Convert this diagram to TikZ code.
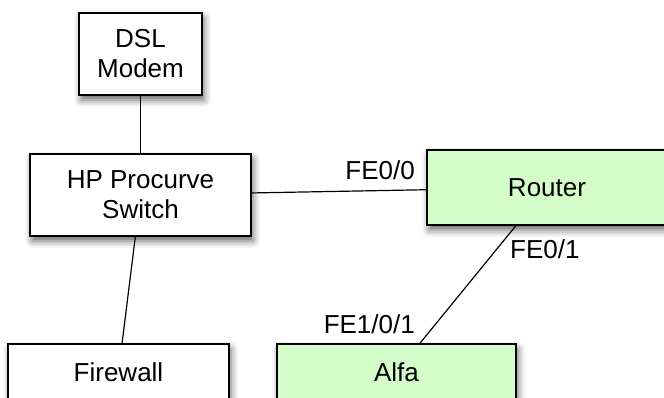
\documentclass[tikz,border=0pt]{standalone}
\usepackage{fontspec}
\setmainfont{Liberation Sans}
\usetikzlibrary{shadows.blur}
\definecolor{lightgreen}{RGB}{212,252,200}

\begin{document}
\begin{tikzpicture}[x=1pt,y=-1pt]
\tikzstyle{every node}=[font=\fontsize{26}{30}\selectfont, inner sep=0pt]
\tikzstyle{box}=[draw, rectangle, fill=white, line width=1.4pt, align=center, blur shadow={shadow xshift=2pt, shadow yshift=-5pt, shadow blur radius=7pt, shadow opacity=60}]
\tikzstyle{greenbox}=[box, fill=lightgreen]
\useasboundingbox (0,0) rectangle (664,397);

\node[box, minimum width=123, minimum height=82] (modem) at (140.5,54) {DSL\\Modem};
\node[box, minimum width=221, minimum height=82] (switch) at (140.5,195) {HP Procurve\\Switch};
\node[greenbox, minimum width=240, minimum height=75] (router) at (547,187.5) {Router};
\node[box, minimum width=221, minimum height=56] (firewall) at (118.5,372) {Firewall};
\node[greenbox, minimum width=239, minimum height=56] (alfa) at (396.5,372) {Alfa};
%\node[greenbox] (alfa) at (396.5,380) {Alfa};

\draw[color=black, line width=1.2pt] (modem) -- (switch);
\draw[color=black, line width=1.2pt] (switch) -- (router);
\draw[color=black, line width=1.2pt] (switch) -- (firewall);
\draw[color=black, line width=1.2pt] (router) -- (alfa);

\node[anchor=east] (fe00) at (415,170) {FE0/0};
\node[anchor=west] (fe01) at (510,249) {FE0/1};
\node[anchor=east] (fe101) at (415,324) {FE1/0/1};
%\node[anchor=west] (fe101) at (323,324) {FE1/0/1};

\end{tikzpicture}
\end{document}
